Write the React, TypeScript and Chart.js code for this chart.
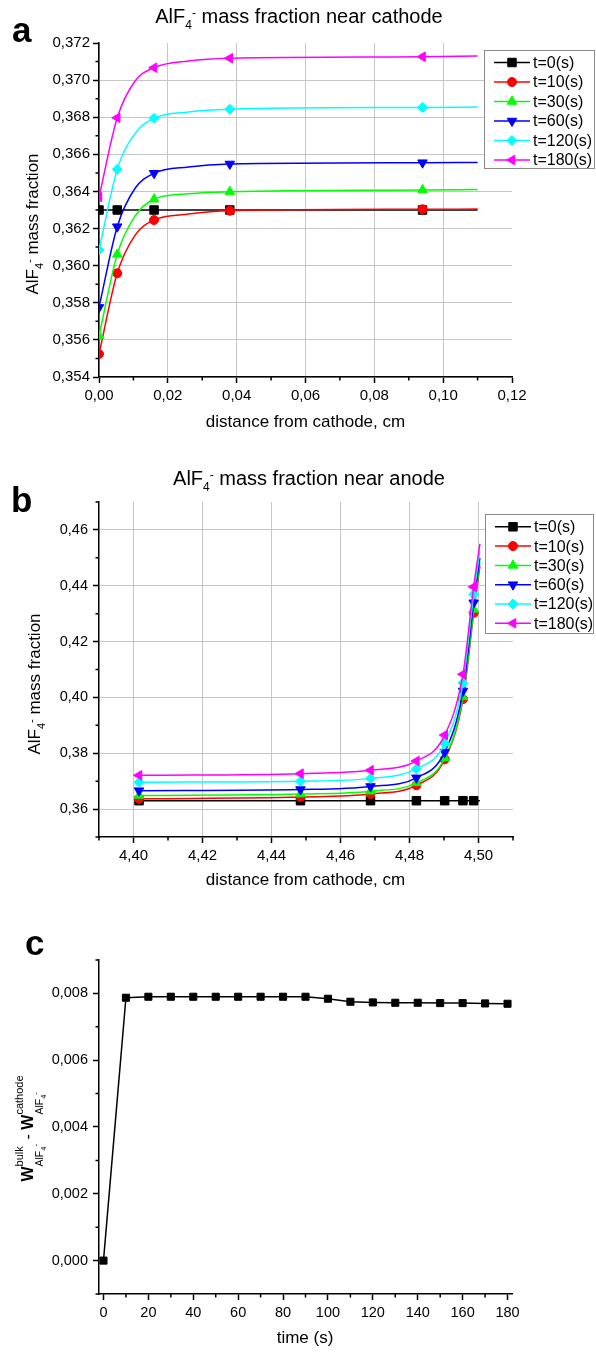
import React, { useEffect, useRef } from 'react';
import { Chart, registerables } from 'chart.js';

Chart.register(...registerables);

const FONT = '"Liberation Sans", Arial, Helvetica, sans-serif';
Chart.defaults.font.family = FONT;

// ---------- shared series look ----------
const seriesLabels = ['t=0(s)', 't=10(s)', 't=30(s)', 't=60(s)', 't=120(s)', 't=180(s)'];
const seriesColors = ['#000000', '#ff0000', '#00ff00', '#0000ff', '#00ffff', '#ff00ff'];
const markerStyles = ['rect', 'circle', 'triangle', 'triangle', 'rectRot', 'triangle'];
const markerRotations = [0, 0, 0, 180, 0, 270];
const markerRadii = [6, 4.5, 5.5, 5.5, 5, 5.5];

// ---------- panel a: near cathode ----------
const cathodeDistance = [0, 0.0053, 0.0105, 0.016, 0.026, 0.038, 0.094, 0.11];
const cathodeMarkerShown = [1, 1, 0, 1, 0, 1, 1, 0];
const cathodeT0 = [0.363, 0.363, 0.363, 0.363, 0.363, 0.363, 0.363, 0.363];
const cathodeT10 = [0.35524, 0.35959, 0.36165, 0.36246, 0.36278, 0.36296, 0.36304, 0.36305];
const cathodeT30 = [0.35621, 0.36061, 0.36268, 0.36358, 0.36388, 0.36399, 0.36408, 0.3641];
const cathodeT60 = [0.35775, 0.3621, 0.36417, 0.36498, 0.36532, 0.36548, 0.36555, 0.36556];
const cathodeT120 = [0.36084, 0.36519, 0.36713, 0.36794, 0.36828, 0.36843, 0.36853, 0.36855];
const cathodeT180 = [0.3637, 0.36797, 0.36995, 0.37067, 0.37103, 0.37118, 0.37126, 0.3713];
const cathodeXTicks = [0, 0.02, 0.04, 0.06, 0.08, 0.1, 0.12];
const cathodeXMinor = [0.01, 0.03, 0.05, 0.07, 0.09, 0.11];
const cathodeYTicks = [0.354, 0.356, 0.358, 0.36, 0.362, 0.364, 0.366, 0.368, 0.37, 0.372];
const cathodeYMinor = [0.355, 0.357, 0.359, 0.361, 0.363, 0.365, 0.367, 0.369, 0.371];

// ---------- panel b: near anode ----------
const anodeDistance = [4.4016, 4.4484, 4.4687, 4.482, 4.4902, 4.4955, 4.4986, 4.5004];
const anodeMarkerShown = [1, 1, 1, 1, 1, 1, 1, 0];
const anodeT0 = [0.363, 0.363, 0.363, 0.363, 0.363, 0.363, 0.363, 0.363];
const anodeT10 = [0.3637, 0.3643, 0.3654, 0.3685, 0.3778, 0.3994, 0.4303, 0.447];
const anodeT30 = [0.3649, 0.3654, 0.3664, 0.3694, 0.3783, 0.4002, 0.4315, 0.4485];
const anodeT60 = [0.3666, 0.367, 0.3681, 0.3712, 0.3804, 0.4023, 0.4339, 0.45];
const anodeT120 = [0.3696, 0.37, 0.371, 0.3744, 0.3835, 0.4052, 0.437, 0.4525];
const anodeT180 = [0.3721, 0.3727, 0.3739, 0.3772, 0.3865, 0.4083, 0.4396, 0.455];
const anodeXTicks = [4.4, 4.42, 4.44, 4.46, 4.48, 4.5];
const anodeXMinor = [4.39, 4.41, 4.43, 4.45, 4.47, 4.49, 4.51];
const anodeYTicks = [0.36, 0.38, 0.4, 0.42, 0.44, 0.46];
const anodeYMinor = [0.35, 0.37, 0.39, 0.41, 0.43, 0.45, 0.47];

// ---------- panel c: bulk - cathode difference ----------
const timeSeconds = [0, 10, 20, 30, 40, 50, 60, 70, 80, 90, 100, 110, 120, 130, 140, 150, 160, 170, 180];
const bulkMinusCathode = [
  0.0, 0.00787, 0.0079, 0.0079, 0.0079, 0.0079, 0.0079, 0.0079, 0.0079, 0.0079,
  0.00784, 0.00775, 0.00773, 0.00772, 0.00772, 0.00771, 0.00771, 0.0077, 0.00769,
];
const timeXTicks = [0, 20, 40, 60, 80, 100, 120, 140, 160, 180];
const timeXMinor = [10, 30, 50, 70, 90, 110, 130, 150, 170];
const diffYTicks = [0, 0.002, 0.004, 0.006, 0.008];
const diffYMinor = [-0.001, 0.001, 0.003, 0.005, 0.007, 0.009];

// ---------- helpers ----------
type Part = { t: string; f: string; dy?: number; anchor?: boolean; back?: boolean; resume?: boolean };

function drawRich(ctx: CanvasRenderingContext2D, parts: Part[], x: number, y: number, rotate = false) {
  ctx.save();
  const starts: number[] = [];
  let cur = 0;
  let anchor = 0;
  let maxEnd = 0;
  for (const p of parts) {
    ctx.font = p.f;
    const w = ctx.measureText(p.t).width;
    if (p.back) cur = anchor;
    if (p.resume) cur = maxEnd;
    if (p.anchor) anchor = cur;
    starts.push(cur);
    cur += w;
    maxEnd = Math.max(maxEnd, cur);
  }
  const total = maxEnd;
  ctx.translate(x, y);
  if (rotate) ctx.rotate(-Math.PI / 2);
  ctx.fillStyle = '#000';
  ctx.textAlign = 'left';
  ctx.textBaseline = 'alphabetic';
  parts.forEach((p, i) => {
    ctx.font = p.f;
    ctx.fillText(p.t, -total / 2 + starts[i], p.dy || 0);
  });
  ctx.restore();
}

function drawMarker(ctx: CanvasRenderingContext2D, style: string, rot: number, r: number, x: number, y: number, color: string) {
  ctx.save();
  ctx.fillStyle = color;
  ctx.strokeStyle = color;
  ctx.lineWidth = 1;
  ctx.beginPath();
  if (style === 'circle') {
    ctx.arc(x, y, r, 0, Math.PI * 2);
  } else if (style === 'rect') {
    const s = Math.SQRT1_2 * r;
    ctx.rect(x - s, y - s, 2 * s, 2 * s);
  } else if (style === 'rectRot') {
    ctx.moveTo(x - r, y);
    ctx.lineTo(x, y - r);
    ctx.lineTo(x + r, y);
    ctx.lineTo(x, y + r);
    ctx.closePath();
  } else {
    let a = (rot * Math.PI) / 180;
    ctx.moveTo(x + Math.sin(a) * r, y - Math.cos(a) * r);
    a += (2 * Math.PI) / 3;
    ctx.lineTo(x + Math.sin(a) * r, y - Math.cos(a) * r);
    a += (2 * Math.PI) / 3;
    ctx.lineTo(x + Math.sin(a) * r, y - Math.cos(a) * r);
    ctx.closePath();
  }
  ctx.fill();
  ctx.stroke();
  ctx.restore();
}

const comma = (v: number, d: number) => v.toFixed(d).replace('.', ',');

function axis(o: {
  isY: boolean; min: number; max: number; ticks: number[]; hide: number[];
  fmt: (v: number) => string; size: number; fontSize: number; pad: number; grid: boolean;
}) {
  return {
    type: 'linear',
    position: o.isY ? 'left' : 'bottom',
    min: o.min,
    max: o.max,
    afterBuildTicks: (s: any) => {
      s.ticks = o.ticks.map((v) => ({ value: v }));
    },
    afterFit: (s: any) => {
      if (o.isY) s.width = o.size;
      else s.height = o.size;
    },
    ticks: {
      callback: (v: any) => o.fmt(Number(v)),
      color: '#000',
      font: { family: FONT, size: o.fontSize },
      padding: o.pad,
      maxRotation: 0,
      autoSkip: false,
    },
    grid: {
      display: true,
      drawOnChartArea: o.grid,
      color: (c: any) => (c.tick && o.hide.includes(c.tick.value) ? 'rgba(0,0,0,0)' : '#c6c6c6'),
      lineWidth: 1,
      drawTicks: true,
      tickLength: 6,
      tickColor: '#000',
      tickWidth: 1.5,
    },
    border: { display: true, color: '#000', width: 1.5 },
  };
}

function minorTicks(chart: any, xs: number[], ys: number[]) {
  const ctx: CanvasRenderingContext2D = chart.ctx;
  const { left, bottom } = chart.chartArea;
  const sx = chart.scales.x;
  const sy = chart.scales.y;
  ctx.save();
  ctx.strokeStyle = '#000';
  ctx.lineWidth = 1.5;
  ctx.beginPath();
  xs.forEach((v) => {
    const px = sx.getPixelForValue(v);
    ctx.moveTo(px, bottom);
    ctx.lineTo(px, bottom + 3.5);
  });
  ys.forEach((v) => {
    const py = sy.getPixelForValue(v);
    ctx.moveTo(left, py);
    ctx.lineTo(left - 3.5, py);
  });
  ctx.stroke();
  ctx.restore();
}

function drawLegend(ctx: CanvasRenderingContext2D, box: number[], y0: number, dy: number) {
  const [x1, y1, x2, y2] = box;
  ctx.save();
  ctx.fillStyle = '#ffffff';
  ctx.fillRect(x1, y1, x2 - x1, y2 - y1);
  ctx.strokeStyle = '#8a8a8a';
  ctx.lineWidth = 1;
  ctx.strokeRect(x1 + 0.5, y1 + 0.5, x2 - x1, y2 - y1);
  seriesLabels.forEach((lab, i) => {
    const y = y0 + i * dy;
    ctx.strokeStyle = seriesColors[i];
    ctx.lineWidth = 1.5;
    ctx.beginPath();
    ctx.moveTo(x1 + 10, y);
    ctx.lineTo(x1 + 46, y);
    ctx.stroke();
    drawMarker(ctx, markerStyles[i], markerRotations[i], markerRadii[i], x1 + 28, y, seriesColors[i]);
    ctx.fillStyle = '#000';
    ctx.font = `16px ${FONT}`;
    ctx.textAlign = 'left';
    ctx.textBaseline = 'middle';
    ctx.fillText(lab, x1 + 49, y + 1);
  });
  ctx.restore();
}

function makeDatasets(xs: number[], series: number[][], shown: number[]) {
  return series.map((ys, i) => ({
    label: seriesLabels[i],
    data: xs.map((x, j) => ({ x, y: ys[j] })),
    borderColor: seriesColors[i],
    backgroundColor: seriesColors[i],
    pointBackgroundColor: seriesColors[i],
    pointBorderColor: seriesColors[i],
    borderWidth: 1.5,
    pointBorderWidth: 1,
    pointStyle: markerStyles[i],
    pointRotation: markerRotations[i],
    pointRadius: shown.map((s) => (s ? markerRadii[i] : 0)),
    pointHoverRadius: 0,
    cubicInterpolationMode: 'monotone',
    fill: false,
    order: 10 - i,
  }));
}

const F = (s: number, bold = false) => `${bold ? 'bold ' : ''}${s}px ${FONT}`;

const alfTitle = (rest: string, big: number, small: number, sub: number, sup: number): Part[] => [
  { t: 'AlF', f: F(big) },
  { t: '4', f: F(small), dy: sub },
  { t: '-', f: F(small), dy: sup },
  { t: rest, f: F(big) },
];

// ---------- chart configs ----------
function configA(): any {
  return {
    type: 'line',
    data: {
      datasets: makeDatasets(
        cathodeDistance,
        [cathodeT0, cathodeT10, cathodeT30, cathodeT60, cathodeT120, cathodeT180],
        cathodeMarkerShown,
      ),
    },
    options: {
      responsive: false,
      animation: false,
      events: [],
      layout: { padding: { left: 0, right: 84, top: 43, bottom: 0 } },
      plugins: { legend: { display: false }, tooltip: { enabled: false } },
      scales: {
        x: axis({ isY: false, min: 0, max: 0.12, ticks: cathodeXTicks, hide: [0.12], fmt: (v) => comma(v, 2), size: 63, fontSize: 15, pad: 4, grid: true }),
        y: axis({ isY: true, min: 0.354, max: 0.372, ticks: cathodeYTicks, hide: [0.372], fmt: (v) => comma(v, 3), size: 99, fontSize: 15, pad: 3, grid: true }),
      },
    },
    plugins: [
      {
        id: 'decoA',
        afterDraw(chart: any) {
          const ctx = chart.ctx;
          minorTicks(chart, cathodeXMinor, cathodeYMinor);
          drawLegend(ctx, [484, 50, 594, 168], 62.5, 19.5);
          drawRich(ctx, alfTitle(' mass fraction near cathode', 20, 12, 6, -6), 299, 23);
          drawRich(ctx, alfTitle(' mass fraction', 17, 11, 5, -5), 38, 224, true);
          ctx.save();
          ctx.fillStyle = '#000';
          ctx.font = F(17);
          ctx.textAlign = 'center';
          ctx.textBaseline = 'middle';
          ctx.fillText('distance from cathode, cm', 305.5, 422);
          ctx.font = F(35, true);
          ctx.textAlign = 'left';
          ctx.textBaseline = 'alphabetic';
          ctx.fillText('a', 12, 42);
          ctx.restore();
        },
      },
    ],
  };
}

function configB(): any {
  return {
    type: 'line',
    data: {
      datasets: makeDatasets(
        anodeDistance,
        [anodeT0, anodeT10, anodeT30, anodeT60, anodeT120, anodeT180],
        anodeMarkerShown,
      ),
    },
    options: {
      responsive: false,
      animation: false,
      events: [],
      layout: { padding: { left: 0, right: 83, top: 62, bottom: 0 } },
      plugins: { legend: { display: false }, tooltip: { enabled: false } },
      scales: {
        x: axis({ isY: false, min: 4.39, max: 4.51, ticks: anodeXTicks, hide: [], fmt: (v) => comma(v, 2), size: 63, fontSize: 15, pad: 4, grid: true }),
        y: axis({ isY: true, min: 0.35, max: 0.47, ticks: anodeYTicks, hide: [], fmt: (v) => comma(v, 2), size: 99, fontSize: 14.5, pad: 5, grid: true }),
      },
    },
    plugins: [
      {
        id: 'decoB',
        afterDraw(chart: any) {
          const ctx = chart.ctx;
          minorTicks(chart, anodeXMinor, anodeYMinor);
          drawLegend(ctx, [485, 74, 593, 193], 86.8, 19.3);
          drawRich(ctx, alfTitle(' mass fraction near anode', 20, 12, 6, -6), 309, 45);
          drawRich(ctx, alfTitle(' mass fraction', 17, 11, 5, -5), 40, 244, true);
          ctx.save();
          ctx.fillStyle = '#000';
          ctx.font = F(17);
          ctx.textAlign = 'center';
          ctx.textBaseline = 'middle';
          ctx.fillText('distance from cathode, cm', 305.5, 440);
          ctx.font = F(35, true);
          ctx.textAlign = 'left';
          ctx.textBaseline = 'alphabetic';
          ctx.fillText('b', 11, 72);
          ctx.restore();
        },
      },
    ],
  };
}

function configC(): any {
  return {
    type: 'line',
    data: {
      datasets: [
        {
          label: 'w bulk - w cathode',
          data: timeSeconds.map((x, j) => ({ x, y: bulkMinusCathode[j] })),
          borderColor: '#000',
          backgroundColor: '#000',
          pointBackgroundColor: '#000',
          pointBorderColor: '#000',
          borderWidth: 1.5,
          pointBorderWidth: 1,
          pointStyle: 'rect',
          pointRadius: 5,
          pointHoverRadius: 0,
          tension: 0,
          fill: false,
        },
      ],
    },
    options: {
      responsive: false,
      animation: false,
      events: [],
      layout: { padding: { left: 0, right: 84, top: 60, bottom: 0 } },
      plugins: { legend: { display: false }, tooltip: { enabled: false } },
      scales: {
        x: axis({ isY: false, min: -2, max: 182, ticks: timeXTicks, hide: [], fmt: (v) => String(Math.round(v)), size: 58, fontSize: 14.5, pad: 4, grid: false }),
        y: axis({ isY: true, min: -0.001, max: 0.009, ticks: diffYTicks, hide: [], fmt: (v) => comma(v, 3), size: 99, fontSize: 14.5, pad: 5, grid: false }),
      },
    },
    plugins: [
      {
        id: 'decoC',
        afterDraw(chart: any) {
          const ctx = chart.ctx;
          minorTicks(chart, timeXMinor, diffYMinor);
          const sub: Part[] = [
            { t: 'AlF', f: F(10.5), dy: 10, back: true },
            { t: '4', f: F(7.5), dy: 13 },
            { t: '-', f: F(8), dy: 5 },
          ];
          const parts: Part[] = [
            { t: 'W', f: F(16, true) },
            { t: 'bulk', f: F(11), dy: -10, anchor: true },
            ...sub,
            { t: ' - ', f: F(16), resume: true },
            { t: 'W', f: F(16, true) },
            { t: 'cathode', f: F(11), dy: -10, anchor: true },
            ...sub,
          ];
          drawRich(ctx, parts, 33, 228.5, true);
          ctx.save();
          ctx.fillStyle = '#000';
          ctx.font = F(17);
          ctx.textAlign = 'center';
          ctx.textBaseline = 'middle';
          ctx.fillText('time (s)', 305, 438);
          ctx.font = F(35, true);
          ctx.textAlign = 'left';
          ctx.textBaseline = 'alphabetic';
          ctx.fillText('c', 25, 55);
          ctx.restore();
        },
      },
    ],
  };
}

function Panel({ top, height, make }: { top: number; height: number; make: () => any }) {
  const ref = useRef<HTMLCanvasElement | null>(null);
  useEffect(() => {
    if (!ref.current) return;
    const chart = new Chart(ref.current, make());
    return () => chart.destroy();
  }, [make]);
  return (
    <div style={{ position: 'absolute', left: 0, top, width: 596, height }}>
      <canvas ref={ref} width={596} height={height} style={{ width: 596, height, display: 'block' }} />
    </div>
  );
}

export default function App() {
  return (
    <div style={{ position: 'absolute', left: 0, top: 0, width: 596, height: 1352, background: '#ffffff', overflow: 'hidden' }}>
      <Panel top={0} height={440} make={configA} />
      <Panel top={440} height={460} make={configB} />
      <Panel top={900} height={452} make={configC} />
    </div>
  );
}
